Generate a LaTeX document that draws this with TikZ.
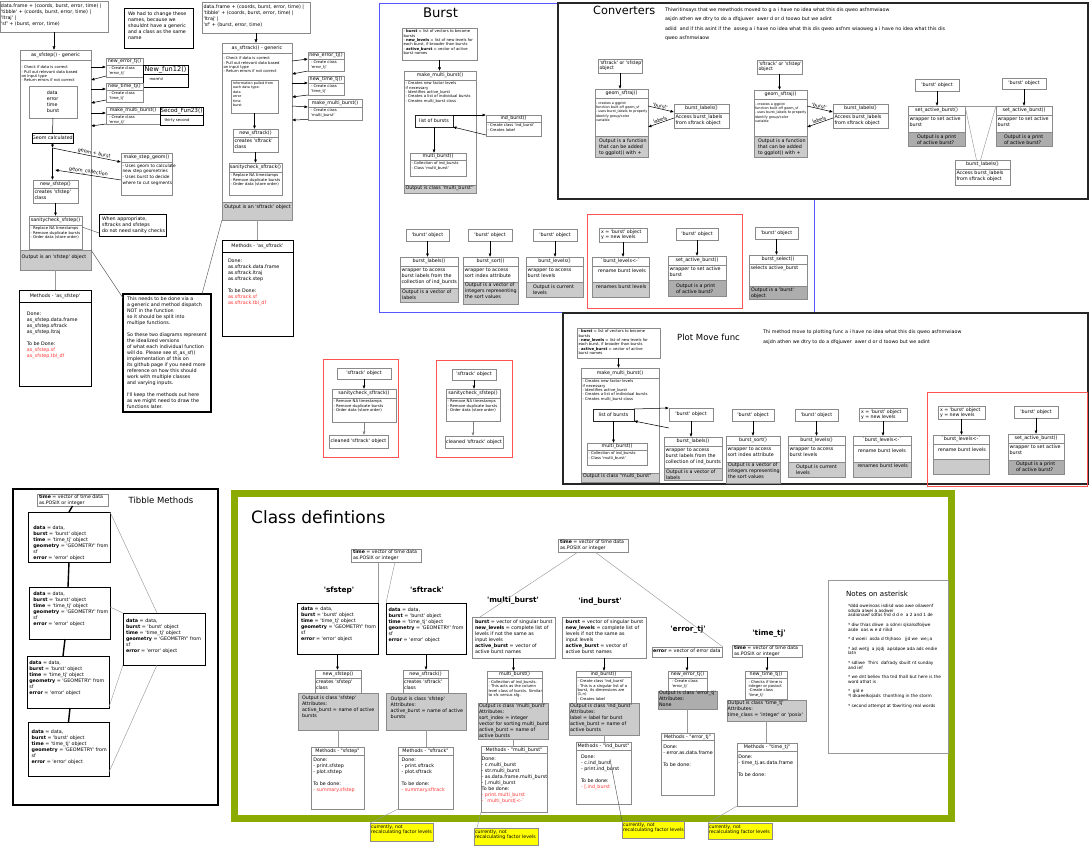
\documentclass[tikz,border=0pt]{standalone}
\usepackage{fontspec}
\newfontfamily\dvfam{DejaVu Sans}[NFSSFamily=dvsx]
\renewcommand{\familydefault}{dvsx}
\usetikzlibrary{arrows.meta,calc}
\definecolor{bordergray}{HTML}{8A8A8A}
\definecolor{outgray}{HTML}{CBCBCB}
\definecolor{outdark}{HTML}{ADADAD}
\definecolor{frameblue}{HTML}{5656FF}
\definecolor{framered}{HTML}{FF5252}
\definecolor{framegreen}{HTML}{8CAB00}
\definecolor{txtred}{HTML}{FF3535}
\definecolor{noteyellow}{HTML}{FFFF00}
\newcommand{\fA}{\fontsize{4.8}{6}\selectfont}
\newcommand{\fB}{\fontsize{4.3}{5.6}\selectfont}
\newcommand{\fC}{\fontsize{3.8}{4.3}\selectfont}
\newcommand{\fE}{\fontsize{4.7}{5.7}\selectfont}
\newcommand{\fF}{\fontsize{4.8}{6.1}\selectfont}
\newcommand{\fG}{\fontsize{3.4}{4.4}\selectfont}
\newcommand{\fH}{\fontsize{4.3}{4.6}\selectfont}
\newcommand{\upx}{1.5}
\newcommand{\upy}{2}
\newcommand{\ubf}{\fA}
\tikzset{
  bx/.style={draw=bordergray,line width=0.5pt,fill=white,inner sep=0pt,outer sep=0pt,anchor=north west},
  thk/.style={draw=black,line width=0.9pt},
  thkk/.style={draw=black,line width=1.6pt},
  txt/.style={inner sep=0pt,outer sep=0pt,align=left,anchor=north west},
  arr/.style={draw=black,line width=0.5pt,-{Latex[length=3.5pt,width=3pt]}},
  arl/.style={draw=black,line width=0.5pt,{Latex[length=3.5pt,width=3pt]}-},
  arg/.style={draw=black!50,line width=0.5pt,-{Latex[length=3.5pt,width=3pt]}},
  ln/.style={draw=black!40,line width=0.45pt},
  lnd/.style={draw=black!65,line width=0.45pt},
  lnb/.style={draw=black,line width=0.5pt},
  lnk/.style={draw=black,line width=1.4pt},
  note/.style={draw=black!45,fill=noteyellow,line width=0.4pt},
  lbl/.style={sloped,above=0.3pt,font=\fA,inner sep=0.3pt},
  frm/.style={draw=black!85,line width=1.3pt},
  rfrm/.style={draw=framered,line width=0.7pt},
  cls/.style={font=\bfseries\fontsize{7.4}{8}\selectfont,inner sep=0pt},
}
% generic class box: style name x1 y1 x2 y2 hdr title body
\newcommand{\cUgen}[9]{%
  \node[bx,#1,minimum width={(#5-#3)*1pt},minimum height={(#6-#4)*1pt}] (#2) at (#3,#4) {};%
  \draw[draw=bordergray,line width=0.5pt,#1] (#3,{#4+#7}) -- (#5,{#4+#7});%
  \node[inner sep=0pt,font=\fA] (#2-t) at ({(#3+#5)/2},{#4+#7/2}) {#8};%
  \node[txt,font=\ubf] (#2-b) at ({#3+\upx},{#4+#7+\upy}) {#9};}
\newcommand{\cU}[1][]{\def\ubf{\fA}\cUgen{#1}}
\newcommand{\cUs}[1][]{\def\ubf{\fC}\cUgen{#1}}
\newcommand{\cUm}[1][]{\def\ubf{\fB}\cUgen{#1}}
\newcommand{\cUg}[1][]{\def\ubf{\fG}\cUgen{#1}}
% output box: name x1 y1 x2 y2 fill {px,py} text
\newcommand{\cO}[8]{%
  \node[bx,fill=#6,minimum width={(#4-#2)*1pt},minimum height={(#5-#3)*1pt}] (#1) at (#2,#3) {};%
  \node[txt,font=\fA] (#1-b) at ($(#2,#3)+(#7)$) {#8};}
% centred text box
\newcommand{\cT}[6][]{\cTx{#1}{#2}{#3}{#4}{#5}{#6}}
\newcommand{\cTx}[7]{\node[bx,font=\fA,align=left,#1,minimum width={(#5-#3)*1pt},minimum height={(#6-#4)*1pt}] (#2) at (#3,#4) {#7};}
% top-left text box: style name x1 y1 x2 y2 {px,py} font text
\newcommand{\cTL}[9][]{%
  \node[bx,#1,minimum width={(#5-#3)*1pt},minimum height={(#6-#4)*1pt}] (#2) at (#3,#4) {};%
  \node[txt,font=#8] (#2-b) at ($(#3,#4)+(#7)$) {#9};}
\newcommand{\tibtxt}{\textbf{data} = data,\\\textbf{burst} = 'burst' object\\\textbf{time} = 'time\_tj' object\\\textbf{geometry} = 'GEOMETRY' from\\sf\\\textbf{error} = 'error' object}
\newcommand{\mbtxt}{\textbf{burst} = vector of singular burst\\\textbf{new\_levels} = complete list of\\levels if not the same as\\input levels\\\textbf{active\_burst} = vector of\\active burst names}
\newcommand{\timetxt}{\textbf{time} = vector of time data\\as.POSIX or integer}
\newcommand{\bdesctxt}{- \textbf{burst} = list of vectors to become\\bursts\\- \textbf{new\_levels} = list of new levels for\\each burst, if broader than bursts\\- \textbf{active\_burst} = vector of active\\burst names}
\begin{document}
\begin{tikzpicture}[x=1pt,y=-1pt]
\useasboundingbox (0,0) rectangle (1089,851);
% ================= frames =================
\draw[draw=frameblue,line width=0.9pt] (379,3) rectangle (814,312);
\draw[frm,fill=white] (558,3) rectangle (1088,199);
\draw[frm] (563,313) rectangle (1088,484);
\draw[draw=black,line width=1.3pt] (13,489) rectangle (218,805);
\draw[draw=framegreen,line width=7pt] (234.5,493.5) rectangle (951.5,818);
\draw[rfrm] (587,214) rectangle (742,308);
\draw[rfrm] (323,359) rectangle (398,457);
\draw[rfrm] (436,360) rectangle (512,457);
\draw[rfrm] (927,392) rectangle (1087,486);

% ================= as_sfstep =================
\cTL{tl}{0}{1}{108}{32}{1,3}{\fF}{data.frame + (coords, burst, error, time) |\\'tibble' + (coords, burst, error, time) |\\'ltraj' |\\'sf' + (burst, error, time)}
\cTL[draw=black,line width=0.7pt]{note1}{124}{8}{193}{48}{4,4}{\fA}{We had to change these\\names, because we\\shouldnt have a generic\\and a class as the same\\name}
{\def\upy{6}\cUs{asst}{20}{50}{91}{270}{10}{as\_sfstep() - generic}{- Check if data is correct\\- Pull out relevant data based\\on input type\\- Return errors if not correct}}
\cT{asin}{29}{86}{77}{118}{data\\error\\time\\burst}
\cT[thk]{geom}{32}{133}{73}{143}{Geom calculated}
\cU{nss}{33}{180}{78}{203}{8}{new\_sfstep()}{creates 'sfstep'\\class}
\cUs{scs}{29}{216}{82}{249}{9}{sanitycheck\_sfstep()}{- Replace NA timestamps\\- Remove duplicate bursts\\- Order data (store order)}
\cO{asto}{20}{250}{91}{270}{outgray}{1.7,4.5}{Output is an 'sfstep' object}
{\def\upx{3}\cUs{ne1}{106}{58}{143}{77}{7}{new\_error\_tj()}{- Create class\\'error\_tj'}}
\cUs[thk]{nf12}{143}{65}{188}{87}{9}{\fontsize{6.6}{7}\selectfont New\_fun12()}{\mbox{}\\\hspace*{5pt}more'd}
{\def\upx{3}\cUs{nt1}{106}{83}{143}{102}{7}{new\_time\_tj()}{- Create class\\'time\_tj'}}
{\def\upx{3}\cUs{mmb1}{106}{107}{160}{124}{7}{make\_multi\_burst()}{- Create class\\'error\_tj'}}
\cUs[thk]{sf23}{160}{107}{203}{125}{8}{\fontsize{5.7}{6.5}\selectfont Secod\_Fun23()}{\mbox{}\\\hspace*{3pt}thirty second}
{\def\upy{2}\cUm{msg}{121}{153}{172}{195}{9}{make\_step\_geom()}{- Uses geom to calculate\\new step geometries\\- Uses burst to decide\\where to cut segments}}
\cTL[thk]{note2}{99}{214}{166}{236}{3,3}{\fA}{When appropriate,\\sftracks and sfsteps\\do not need sanity checks}
{\def\upx{8}\def\upy{10}\cU[thk]{mas}{19}{290}{91}{386}{12}{Methods - 'as\_sfstep'}{Done:\\as\_sfstep.data.frame\\as\_sfstep.sftrack\\as\_sfstep.ltraj\\[6pt]To be Done:\\\textcolor{txtred}{as\_sfstep.sf}\\\textcolor{txtred}{as\_sfstep.tbl\_df}}}
\cTL[thkk]{note3}{123}{294}{211}{412}{4,2.5}{\fA}{This needs to be done via a\\a generic and method dispatch\\NOT in the function\\so it should be split into\\multipe  functions.\\[6pt]So these two diagrams represent\\the idealized versions\\of what each individual function\\will do. Please see st\_as\_sf()\\implementation of this on\\its github page if you need more\\reference on how this should\\work with multiple classes\\and varying inputs.\\[6pt]I'll keep the methods out here\\as we might need to draw the\\functions later.}

% ================= as_sftrack =================
\cTL{tr}{202}{2}{310}{33}{1.5,3}{\fF}{data.frame + (coords, burst, error, time) |\\'tibble' + (coords, burst, error, time) |\\'ltraj' |\\'sf' + (burst, error, time)}
{\def\upy{4}\cUs{asft}{222}{43}{292}{220}{10}{as\_sftrack() - generic}{- Check if data is correct\\- Pull out relevant data based\\on input type\\- Return errors if not correct}}
\cTL{info}{231}{80}{278}{113}{2,2}{\fG}{Information pulled from\\each data type:\\data\\error\\time\\burst}
\cU{nsf}{233}{129}{278}{152}{8}{new\_sftrack()}{creates 'sftrack'\\class}
\cUs{scf}{229}{163}{282}{195}{9}{sanitycheck\_sftrack()}{- Replace NA timestamps\\- Remove duplicate bursts\\- Order data (store order)}
\cO{asfo}{222}{202}{292}{220}{outgray}{2.3,2.5}{Output is an 'sftrack' object}
{\def\upx{3}\cUs{ne2}{308}{52}{344}{71}{7}{new\_error\_tj()}{- Create class\\'error\_tj'}}
{\def\upx{3}\cUs{nt2}{308}{76}{344}{95}{7}{new\_time\_tj()}{- Create class\\'time\_tj'}}
{\def\upx{3}\cUs{mmb2}{308}{99}{362}{120}{8}{make\_multi\_burst()}{- Create class\\'multi\_burst'}}
{\def\upx{6}\def\upy{7}\cU[thk]{mast}{222}{240}{293}{336}{12}{Methods - 'as\_sftrack'}{Done:\\as.sftrack.data.frame\\as.sftrack.ltraj\\as.sftrack.step\\[6pt]To be Done:\\\textcolor{txtred}{as.sftrack.sf}\\\textcolor{txtred}{as.sftrack.tbl\_df}}}

% ================= Burst =================
\node[font=\fontsize{13.2}{14}\selectfont,inner sep=0pt] (bursttitle) at (440.5,12.5) {Burst};
\cTL{bdesc}{402}{28}{477}{60}{1.5,2}{\fC}{\bdesctxt}
\cUs{mmb3}{404}{71}{476}{193}{9}{make\_multi\_burst()}{- Creates new factor levels\\if necessary\\- Identifies active\_burst\\- Creates a list of individual bursts\\- Creates multi\_burst class}
\cO{mmb3o}{404}{185}{476}{193}{outgray}{1.5,1}{Output is class 'multi\_burst''}
\cT[draw=black!85]{lob}{415}{115}{453}{127}{list of bursts}
\cUs{ib}{486}{115}{541}{136}{7}{ind\_burst()}{- Create class 'ind\_burst'\\- Creates label}
\cUs{mb3}{410}{153}{466}{176}{7}{multi\_burst()}{- Collection of ind\_bursts\\- Class 'multi\_burst'}
% burst row
\cT{bo1}{406}{229}{449}{241}{'burst' object}
\cU{bl1}{400}{257}{458}{302}{9}{burst\_labels()}{wrapper to access\\burst labels from the\\collection of ind\_bursts}
\cO{bl1o}{400}{288}{458}{302}{outgray}{2,1.5}{Output is a vector of\\labels}
\cT{bo2}{468}{229}{512}{241}{'burst' object}
\cU{bs1}{463}{257}{518}{304}{9}{burst\_sort()}{wrapper to access\\sort index attribute}
\cO{bs1o}{463}{282}{518}{304}{outgray}{2,1}{Output is a vector of\\integers representing\\the sort values}
\cT{bo3}{533}{229}{577}{241}{'burst' object}
\cU{blv1}{526}{257}{583}{297}{9}{burst\_levels()}{wrapper to access\\burst levels}
\cO{blv1o}{526}{282}{583}{297}{outgray}{7,2.5}{Output is current\\levels}
\cTL{xy1}{599}{228}{647}{242}{2,1.5}{\fE}{x = 'burst' object\\y = new levels}
{\def\upx{6}\def\upy{3}\cU{bll1}{592}{257}{649}{297}{9}{`burst\_levels<-`}{rename burst levels}}
\cO{bll1o}{592}{282}{649}{297}{outgray}{4,3}{renames burst levels}
\cT{bo4}{676}{228}{718}{240}{'burst' object}
\cU{sab1}{668}{256}{726}{296}{9}{set\_active\_burst()}{wrapper to set active\\burst}
\cO{sab1o}{668}{280}{726}{296}{outdark}{8,3.5}{Output is a print\\of active burst?}
\cT{bo5}{755}{227}{798}{239}{'burst' object}
\cU{bsel}{749}{255}{807}{299}{9}{burst\_select()}{selects active\_burst}
\cO{bselo}{749}{286}{807}{299}{outdark}{2,2}{Output is a 'burst'\\object}

% ================= Converters =================
\node[font=\fontsize{11.3}{12}\selectfont,inner sep=0pt,anchor=west] (convtitle) at (593,10) {Converters};
\node[txt,font=\fA,anchor=west] (conv-l1) at (665,10) {Thiwritinsays that we mewthods moved to g a i have no idea what this dis qweo asfnmwiaow};
\node[txt,font=\fA,anchor=west] (conv-l2) at (665,19.5) {asjdn athen we dtry to do a dfqjuwer\ \ awer d or d toowo but we adint};
\node[txt,font=\fA,anchor=west] (conv-l3) at (665,29) {adiid\ \ and if this asint if the\ \ asseg a i have no idea what this dis qweo asfnm wiaoweg a i have no idea what this dis};
\node[txt,font=\fA,anchor=west] (conv-l4) at (665,38.5) {qweo asfnmwiaow};
\cTL{so1}{598}{59}{642}{73}{1.5,1.5}{\fE}{'sftrack' or 'sfstep'\\object}
{\def\upx{1}\def\upy{3.5}\cUg{geo1}{595}{89}{648}{157}{9}{geom\_sftraj()}{- creates a ggplot\\function built off geom\_sf\\- uses burst\_labels to properly\\identify group/color\\variable}}
\cO{geo1o}{595}{136}{648}{157}{outgray}{4,2.5}{Output is a function\\that can be added\\to ggplot() with +}
\cU{bla1}{674}{104}{729}{128}{9}{burst\_labels()}{Access burst\_labels\\from sftrack object}
\cTL{so2}{757}{60}{802}{74}{1.5,1.5}{\fE}{'sftrack' or 'sfstep'\\object}
{\def\upx{1}\def\upy{3.5}\cUg{geo2}{754}{90}{807}{157}{9}{geom\_sftraj()}{- creates a ggplot\\function built off geom\_sf\\- uses burst\_labels to properly\\identify group/color\\variable}}
\cO{geo2o}{754}{136}{807}{157}{outgray}{4,2.5}{Output is a function\\that can be added\\to ggplot() with +}
\cU{bla2}{833}{104}{888}{128}{9}{burst\_labels()}{Access burst\_labels\\from sftrack object}
\cT{bo6}{915}{79}{959}{91}{'burst' object}
\cU{sab2}{908}{106}{965}{146}{9}{set\_active\_burst()}{wrapper to set active\\burst}
\cO{sab2o}{908}{132}{965}{146}{outdark}{9,2.5}{Output is a print\\of active burst?}
\cT{bo7}{1002}{78}{1046}{89}{'burst' object}
\cU{sab3}{996}{106}{1052}{146}{9}{set\_active\_burst()}{wrapper to set active\\burst}
\cO{sab3o}{996}{132}{1052}{146}{outdark}{8,2.5}{Output is a print\\of active burst?}
\cU{bla3}{955}{160}{1010}{185}{9}{burst\_labels()}{Access burst\_labels\\from sftrack object}

% ================= sanitycheck red frames =================
\cT{so3}{337}{368}{391}{379}{'sftrack' object}
\cUs{scf2}{332}{389}{396}{422}{9}{sanitycheck\_sftrack()}{- Remove NA timestamps\\- Remove duplicate bursts\\- Order data (store order)}
\cT{cl1}{329}{435}{388}{448}{cleaned 'sftrack' object}
\cT{so4}{452}{369}{496}{380}{'sftrack' object}
\cUs{scs2}{446}{389}{500}{421}{9}{sanitycheck\_sfstep()}{- Remove NA timestamps\\- Remove duplicate bursts\\- Order data (store order)}
\cT{cl2}{445}{436}{503}{448}{cleaned 'sftrack' object}

% ================= Plot Move func =================
\cTL{pdesc}{577}{328}{660}{358}{1.5,2}{\fC}{\bdesctxt}
\node[font=\fontsize{8.5}{9}\selectfont,inner sep=0pt,anchor=west] (pmtitle) at (677,337.5) {Plot Move func};
\node[txt,font=\fA,anchor=west] (pm-l1) at (763,332) {Thi method move to plotting func a i have no idea what this dis qweo asfnmwiaow};
\node[txt,font=\fA,anchor=west] (pm-l2) at (763,342) {asjdn athen we dtry to do a dfqjuwer\ \ awer d or d toowo but we adint};
\cUs{pmmb}{581}{368}{659}{482}{10}{make\_multi\_burst()}{- Creates new factor levels\\if necessary\\- Identifies active\_burst\\- Creates a list of individual bursts\\- Creates multi\_burst class}
\cO{pmmbo}{581}{473}{659}{482}{outgray}{2,0.7}{Output is class "multi\_burst"}
\cT[draw=black!85]{plob}{593}{409}{634}{421}{list of bursts}
\cUs{pmb}{587}{443}{647}{465}{7}{multi\_burst()}{- Collection of ind\_bursts\\- Class 'multi\_burst'}
\cT{pbo1}{669}{408}{713}{421}{'burst' object}
\cU{pbl}{664}{437}{722}{480}{9}{burst\_labels()}{wrapper to access\\burst labels from the\\collection of ind\_bursts}
\cO{pblo}{664}{468}{722}{480}{outgray}{2,1.5}{Output is a vector of\\labels}
\cT{pbo2}{732}{409}{774}{421}{'burst' object}
\cU{pbs}{726}{436}{780}{483}{9}{burst\_sort()}{wrapper to access\\sort index attribute}
\cO{pbso}{726}{462}{780}{483}{outgray}{2,1}{Output is a vector of\\integers representing\\the sort values}
\cT{pbo3}{795}{409}{838}{421}{'burst' object}
\cU{pblv}{788}{436}{845}{477}{9}{burst\_levels()}{wrapper to access\\burst levels}
\cO{pblvo}{788}{462}{845}{477}{outgray}{8,2.5}{Output is current\\levels}
\cTL{pxy1}{859}{408}{907}{421}{2,1.5}{\fE}{x = 'burst' object\\y = new levels}
{\def\upx{5}\def\upy{4}\cU{pbll1}{853}{436}{911}{477}{9}{`burst\_levels<-`}{rename burst levels}}
\cO{pbll1o}{853}{462}{911}{477}{outgray}{4.5,2}{renames burst levels}
\cTL{pxy2}{938}{406}{985}{419}{2,1.5}{\fE}{x = 'burst' object\\y = new levels}
{\def\upx{5}\def\upy{4}\cU{pbll2}{933}{435}{989}{474}{9}{`burst\_levels<-`}{rename burst levels}}
\cO{pbll2o}{933}{459}{989}{474}{outgray}{2,2}{}
\cT{pbo4}{1014}{406}{1058}{418}{'burst' object}
\cU{psab}{1008}{434}{1064}{474}{9}{set\_active\_burst()}{wrapper to set active\\burst}
\cO{psabo}{1008}{460}{1064}{474}{outdark}{8,2}{Output is a print\\of active burst?}

% ================= Tibble Methods =================
\node[font=\fontsize{8.5}{9}\selectfont,inner sep=0pt] (tibtitle) at (161,500) {Tibble Methods};
\cTL{tt}{37}{494}{108}{506}{2,0.8}{\fE}{\timetxt}
\cTL[thk]{tb1}{28}{512}{110}{562}{5.3,13.5}{\fA}{\tibtxt}
\cTL[thk]{tb2}{29}{587}{110}{639}{4.3,5}{\fA}{\tibtxt}
\cTL[thk]{tb3}{27}{656}{109}{708}{2.3,5}{\fA}{\tibtxt}
\cTL[thk]{tb4}{28}{722}{109}{776}{3.7,7.5}{\fA}{\tibtxt}
\cTL[thk]{tbr}{123}{613}{205}{665}{3,6}{\fA}{\tibtxt}

% ================= Class definitions =================
\node[font=\fontsize{17}{18}\selectfont,inner sep=0pt,anchor=west] (cdtitle) at (251,517) {Class defintions};
\cTL{ct1}{351}{549}{421}{562}{2,1}{\fE}{\timetxt}
\node[cls] (lsfs) at (339,590) {'sfstep'};
\node[cls] (lsft) at (427,590) {'sftrack'};
\node[cls] (lmb) at (513,601) {'multi\_burst'};
\node[cls] (lib) at (600,602) {'ind\_burst'};
\node[cls] (ler) at (688,630) {'error\_tj'};
\node[cls] (ltt) at (769,634) {'time\_tj'};
\cTL[thk]{sfs}{297}{603}{378}{654}{4,4}{\fA}{\tibtxt}
\cTL[thk]{sft}{386}{603}{466}{654}{2.5,5}{\fA}{\tibtxt}
{\def\upx{1}\cU{nsfs}{315}{670}{361}{693}{8}{new\_sfstep()}{creates 'sfstep'\\class}}
\cO{nsfso}{298}{693}{378}{730}{outgray}{4,3}{Output is class 'sfstep'\\Attributes:\\active\_burst = name of active\\bursts}
{\def\upx{2.3}\def\upy{3}\cU{msfs}{311}{747}{364}{809}{8}{Methods - "sfstep"}{Done:\\- print.sfstep\\- plot.sfstep\\[6pt]To be done:\\\textcolor{txtred}{- summary.sfstep}}}
{\def\upx{1}\cU{nsft}{403}{670}{448}{693}{8}{new\_sftrack()}{creates 'sftrack'\\class}}
\cO{nsfto}{386}{693}{466}{730}{outgray}{4.7,4}{Output is class 'sfstep'\\Attributes:\\active\_burst = name of active\\bursts}
{\def\upx{3.7}\def\upy{3}\cU{msft}{398}{747}{453}{809}{8}{Methods - "sftrack"}{Done:\\- print.sftrack\\- plot.sftrack\\[6pt]To be done:\\\textcolor{txtred}{- summary.sftrack}}}
\cTL{ct2}{558}{539}{628}{552}{2,1}{\fE}{\timetxt}
\cTL{cmb}{472}{617}{555}{658}{3,2.7}{\fA}{\mbtxt}
{\def\upy{2.8}\cUs{mbf}{487}{671}{542}{703}{7}{multi\_burst()}{- Collection of ind\_bursts.\\- This acts as the column\\level class of bursts. Similar\\to sfc versus sfg.}}
\cO{mbfo}{478}{703}{548}{739}{outgray}{1,0.5}{Output is class 'multi\_burst'\\Attributes:\\sort\_index = integer\\vector for sorting multi\_burst\\active\_burst = name of\\active bursts}
{\def\upx{0.7}\def\upy{3}\cU{mmf}{481}{746}{547}{812}{7.5}{Methods - "multi\_burst"}{Done:\\- c.multi\_burst\\- str.multi\_burst\\- as.data.frame.multi\_burst\\- [.multi\_burst\\To be done:\\\textcolor{txtred}{- print.multi\_burst}\\\textcolor{txtred}{- `multi\_burst[<-`}}}
\cTL{cib}{562}{617}{646}{658}{3.7,2.7}{\fA}{\mbtxt}
{\def\upy{3}\cUs{ibf}{576}{671}{631}{703}{6}{ind\_burst()}{- Create class 'ind\_burst'\\- This is a singular list of a\\burst, its dimensions are\\(1,n)\\- Creates label}}
\cO{ibfo}{569}{703}{639}{735}{outgray}{1,1}{Output is class 'ind\_burst'\\Attributes:\\label = label for burst\\active\_burst = name of\\active bursts}
{\def\upx{5}\def\upy{4.5}\cU{mib}{576}{742}{631}{804}{8}{Methods - "ind\_burst"}{Done:\\- c.ind\_burst\\- print.ind\_burst\\[6pt]To be done:\\\textcolor{txtred}{- [.ind\_burst}}}
\cTL{cer}{652}{647}{722}{657}{1,1.5}{\fA}{\textbf{error} = vector of error data}
{\def\upx{4}\cUs{nerr}{668}{671}{707}{691}{7}{new\_error\_tj()}{- Create class\\'error\_tj'}}
\cO{nerro}{658}{691}{717}{709}{outdark}{1,0.3}{Output is class 'error\_tj'\\Attributes:\\None}
{\def\upx{2.3}\def\upy{4}\cU{merr}{661}{733}{714}{795}{7.5}{Methods - "error\_tj"}{Done:\\- error.as.data.frame\\[6pt]To be done:}}
\cTL{ctt}{732}{645}{802}{657}{2,1}{\fE}{\timetxt}
{\def\upx{3.5}\def\upy{2.5}\cUs{ntt}{745}{671}{787}{699}{7}{new\_time\_tj()}{- Checks if time is\\integer or posixct\\-Create class\\'time\_tj'}}
\cO{ntto}{727}{700}{806}{721}{outgray}{0.7,1.3}{Output is class 'time\_tj'\\Attributes:\\time\_class = 'integer' or 'posix'}
{\def\upx{1.3}\def\upy{3}\cU{mtt}{737}{743}{797}{806}{8.5}{Methods - "time\_tj"}{Done:\\- time\_tj.as.data.frame\\[6pt]To be done:}}
% notes
\cTL[draw=black!40]{notes}{828}{580}{948}{753}{20,24.5}{\fH}{*ddd oweinoas isdisd woo awe oilawenf\\sdsda alwei a asdwei\\asdionawf sdfas fnd d d e\ \ a 2 and 1 de\\[5pt]* diw thias diiwe\ \ a sdnni sjkalsdfoijwe\\asde\ \ oas w e d riikd\\[5pt]* d woeii\ \ asda d thjhaso\ \ \ jjd we\ \ we;;a\\[5pt]* asl wetjj\ \ a jsjdj\ \ apsdpoe ada ads endie\\latn\\[5pt]* sdliwe\ \ Thirs\ \ dafrady sbuilt nt sunday\\and ief\\[5pt]* we dnt believ tha tnd thall but here is the\\word athat is\\[5pt]*\ \ gid e\\*l dkaeelkojads\ \ thonthing in the storm\\[5pt]* second attempt at tbwriting real words}
\node[font=\fontsize{7.1}{8}\selectfont,inner sep=0pt] (notes-t) at (877,594) {Notes on asterisk};
% yellow notes
\cTL[note]{y1}{370}{823}{433}{841}{1,1.5}{\fE}{currently, not\\recalculating factor levels}
\cTL[note]{y2}{474}{828}{538}{845}{1,1.5}{\fE}{currently, not\\recalculating factor levels}
\cTL[note]{y3}{622}{821}{684}{838}{1,1.5}{\fE}{currently, not\\recalculating factor levels}
\cTL[note]{y4}{708}{823}{772}{839}{1,1.5}{\fE}{currently, not\\recalculating factor levels}

% ================= connectors =================
% as_sfstep
\draw[arr] (tl.south) -- (tl.south |- asst.north);
\draw[lnb] (asin.south) -- (geom.north);
\coordinate (gj) at ($(geom.south)+(0,5)$);
\draw[arr] (geom.south) -- (gj);
\draw[arr] (gj) -- (gj |- nss.north);
\draw[arr] (gj) -- node[lbl,pos=0.6]{geom + burst} ($(msg.north west)+(0,9)$);
\draw[arl] ($(geom.south)+(2.5,27)$) -- node[lbl]{geom\_collection} ($(msg.north west)+(0,27)$);
\draw[arr] (nss.south) -- (nss.south |- scs.north);
\draw[arr] ($(asst.north east)+(0,17)$) -- ($(ne1.north west)+(0,9)$);
\draw[arr] ($(ne1.south west)+(0,-1)$) -- ($(asst.north east)+(0,30)$);
\draw[arr] ($(asst.north east)+(0,39)$) -- ($(nt1.north west)+(0,6)$);
\draw[arr] ($(nt1.south west)+(0,-2)$) -- ($(asst.north east)+(0,53)$);
\draw[arr] ($(asst.north east)+(0,63)$) -- ($(mmb1.north west)+(0,6)$);
\draw[arr] (mmb1.south west) -- ($(asst.north east)+(0,76)$);
\draw[lnd] ($(scs.north east)+(0,11)$) -- ($(note2.north west)+(0,19)$);
\draw[ln] (asto.south) -- (asto.south |- mas.north);
\draw[lnd] (asto.north east) -- ($(note3.north west)+(0,4)$);
% as_sftrack
\draw[arr] (tr.south) -- (tr.south |- asft.north);
\draw[arr] (info.south) -- (info.south |- nsf.north);
\draw[arr] (nsf.south) -- (nsf.south |- scf.north);
\draw[arr] ($(asft.north east)+(0,18)$) -- ($(ne2.north west)+(0,7)$);
\draw[arr] (ne2.south west) -- ($(asft.north east)+(0,31)$);
\draw[arr] ($(asft.north east)+(0,40)$) -- ($(nt2.north west)+(0,7)$);
\draw[arr] (nt2.south west) -- ($(asft.north east)+(0,54)$);
\draw[arr] ($(asft.north east)+(0,63)$) -- ($(mmb2.north west)+(0,8)$);
\draw[arr] ($(mmb2.south west)+(0,-0.5)$) -- ($(asft.north east)+(0,77)$);
\draw[ln] (asfo.south) -- (asfo.south |- mast.north);
\draw[lnd] (asfo.south west) -- ($(note3.north east)+(-9,0)$);
% Burst
\draw[arr] (bdesc.south) -- (bdesc.south |- mmb3.north);
\draw[arr] (lob.north east) -- (ib.north west);
\draw[arr] ($(ib.south west)+(0,-1)$) -- (lob.south east);
\draw[arr] (lob.south) -- (lob.south |- mb3.north);
\draw[arr] (bo1.south) -- (bo1.south |- bl1.north);
\draw[arr] (bo2.south) -- (bo2.south |- bs1.north);
\draw[arr] (bo3.south) -- (bo3.south |- blv1.north);
\draw[arr] (xy1.south) -- (xy1.south |- bll1.north);
\draw[arr] (bo4.south) -- (bo4.south |- sab1.north);
\draw[arr] (bo5.south) -- (bo5.south |- bsel.north);
% Converters
\draw[arr] (so1.south) -- (so1.south |- geo1.north);
\draw[arr] ($(geo1.north east)+(0,17)$) -- node[lbl,pos=0.45]{'burst'} ($(bla1.north west)+(0,8)$);
\draw[arl] ($(geo1.north east)+(0,38)$) -- node[lbl]{labels} ($(bla1.north west)+(0,14)$);
\draw[arr] (so2.south) -- (so2.south |- geo2.north);
\draw[arr] ($(geo2.north east)+(0,16)$) -- node[lbl,pos=0.45]{'burst'} ($(bla2.north west)+(0,8)$);
\draw[arl] ($(geo2.north east)+(0,37)$) -- node[lbl]{labels} ($(bla2.north west)+(0,14)$);
\draw[arr] (bo6.south) -- (bo6.south |- sab2.north);
\draw[arr] (bo7.south) -- (bo7.south |- sab3.north);
\draw[ln] (sab2.north east) -- (sab3.north west);
\draw[ln] (sab2.north east) -- ($(bla3.north)+(-6,0)$);
\draw[ln] (sab3.north west) -- ($(bla3.north)+(-2,0)$);
% sanitycheck frames
\draw[arr] (so3.south) -- (so3.south |- scf2.north);
\draw[arg] (scf2.south) -- (scf2.south |- cl1.north);
\draw[arr] (so4.south) -- (so4.south |- scs2.north);
\draw[arg] (scs2.south) -- (scs2.south |- cl2.north);
% Plot move
\draw[arr] (pdesc.south) -- (pdesc.south |- pmmb.north);
\draw[arr] (plob.north east) -- (pbo1.north west);
\coordinate (pfree) at ($(pbo1.south west)+(0,7)$);
\draw[arr] (pfree) -- (plob.south east);
\draw[arr] (plob.south) -- (plob.south |- pmb.north);
\draw[arr] (pbo1.south) -- (pbo1.south |- pbl.north);
\draw[arr] (pbo2.south) -- (pbo2.south |- pbs.north);
\draw[arr] (pbo3.south) -- (pbo3.south |- pblv.north);
\draw[arr] (pxy1.south) -- (pxy1.south |- pbll1.north);
\draw[arr] (pxy2.south) -- (pxy2.south |- pbll2.north);
\draw[arr] (pbo4.south) -- (pbo4.south |- psab.north);
% Tibble
\draw[lnk] (tt.south) -- (tb1.north);
\draw[lnk] (tb1.south) -- ($(tb2.north)+(-1.5,0)$);
\draw[lnk] ($(tb2.south)+(-4.5,0)$) -- ($(tb3.north)+(-5,0)$);
\draw[lnk] ($(tb3.south)+(2,0)$) -- (tb4.north);
\draw[ln] (tb1.north east) -- ($(tbr.north)+(-7,0)$);
\draw[ln] ($(tb2.north east)+(0,20)$) -- (tbr.north west);
\draw[ln] ($(tb3.south east)+(0,-1)$) -- (tbr.south west);
\draw[ln] ($(tb4.south east)+(0,-4)$) -- ($(tbr.south)+(-7,0)$);
% Class definitions
\draw[ln] ($(ct1.south west)+(27,0)$) -- (sfs.north east);
\draw[ln] ($(ct1.south west)+(44,0)$) -- (sft.north west);
\draw[arr] (sfs.south) -- (sfs.south |- nsfs.north);
\draw[ln] (nsfso.south) -- (nsfso.south |- msfs.north);
\draw[arr] (sft.south) -- (sft.south |- nsft.north);
\draw[ln] (nsfto.south) -- (nsfto.south |- msft.north);
\draw[ln] (msft.south west) -- (y1.north west);
\draw[ln] ($(ct2.south west)+(20,0)$) -- ($(cmb.north west)+(8,0)$);
\draw[ln] ($(ct2.south west)+(37,0)$) -- ($(cer.north east)+(1,0)$);
\draw[arr] (cmb.south) -- (cmb.south |- mbf.north);
\draw[ln] (mbfo.south) -- (mbfo.south |- mmf.north);
\draw[ln] (mmf.south west) -- ($(y2.north west)+(3,0)$);
\draw[arr] (cib.south) -- (cib.south |- ibf.north);
\draw[ln] (ibfo.south) -- (ibfo.south |- mib.north);
\draw[lnd] ($(mib.north west)+(34,17)$) -- (y3.north west);
\draw[arr] (cer.south) -- (cer.south |- nerr.north);
\draw[ln] (nerro.south) -- (nerro.south |- merr.north);
\draw[arr] (ctt.south) -- (ctt.south |- ntt.north);
\draw[ln] (ntto.south) -- (ntto.south |- mtt.north);
\draw[ln] (mtt.south west) -- (y4.north west);
\end{tikzpicture}
\end{document}
